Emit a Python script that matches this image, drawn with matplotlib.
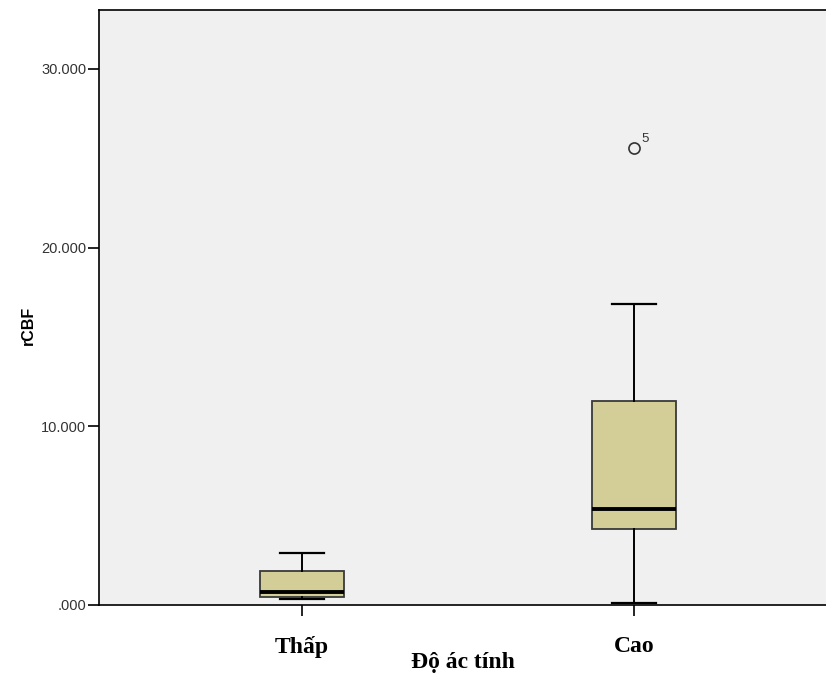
import matplotlib.pyplot as plt
from matplotlib.ticker import FuncFormatter

# values
groups = ["Thấp", "Cao"]
whislo = [0.34, 0.11]
q1 = [0.45, 4.25]
med = [0.73, 5.37]
q3 = [1.90, 11.42]
whishi = [2.91, 16.84]
fliers = [[], [25.6]]
flier_ids = [[], ["5"]]

stats = []
for i in range(len(groups)):
    stats.append({"label": groups[i], "whislo": whislo[i], "q1": q1[i],
                  "med": med[i], "q3": q3[i], "whishi": whishi[i],
                  "fliers": fliers[i]})

fig = plt.figure(figsize=(8.26, 6.77), dpi=100)
ax = fig.add_axes([99 / 826, 72 / 677, 727 / 826, 595 / 677])
ax.set_facecolor("#f0f0f0")

pos = [1, 2]
ax.bxp(stats, positions=pos, widths=0.253, patch_artist=True,
       boxprops=dict(facecolor="#d3ce98", edgecolor="#3a3a3a", linewidth=1.3),
       medianprops=dict(color="black", linewidth=2.8),
       whiskerprops=dict(color="black", linewidth=1.4),
       capprops=dict(color="black", linewidth=1.6),
       capwidths=0.13,
       flierprops=dict(marker="o", markersize=8, markerfacecolor="none",
                       markeredgecolor="#333333", markeredgewidth=1.2))

# case labels next to outliers
for i in range(len(groups)):
    for v, lab in zip(fliers[i], flier_ids[i]):
        ax.annotate(lab, (pos[i], v), xytext=(5, 4), textcoords="offset points",
                    fontsize=9.5, color="#333333", family="Liberation Sans")

ax.set_xlim(1 - 203 / 332, 2 + 192 / 332)
ax.set_ylim(0, 33.3)
ax.set_yticks([0, 10, 20, 30])
ax.yaxis.set_major_formatter(FuncFormatter(
    lambda v, p: ".000" if v == 0 else "%d.000" % v))

for s in ["left", "bottom", "top"]:
    ax.spines[s].set_color("black")
    ax.spines[s].set_linewidth(1.2)
ax.spines["right"].set_visible(False)

ax.tick_params(axis="y", direction="out", length=8, width=1.2, pad=1,
               labelsize=10.5, labelcolor="#333333")
ax.tick_params(axis="x", direction="out", length=8, width=1.2, pad=14)
for t in ax.get_yticklabels():
    t.set_family("Liberation Sans")
ax.set_xticks(pos)
ax.set_xticklabels(groups, family="Liberation Serif", fontweight="bold",
                   fontsize=17)

ax.set_ylabel("rCBF", family="Liberation Sans", fontweight="bold",
              fontsize=11.5)
ax.yaxis.set_label_coords(-0.087, 0.47)
ax.set_xlabel("Độ ác tính", family="Liberation Serif", fontweight="bold",
              fontsize=17, labelpad=-4)

fig.savefig("out.png", dpi=100)
